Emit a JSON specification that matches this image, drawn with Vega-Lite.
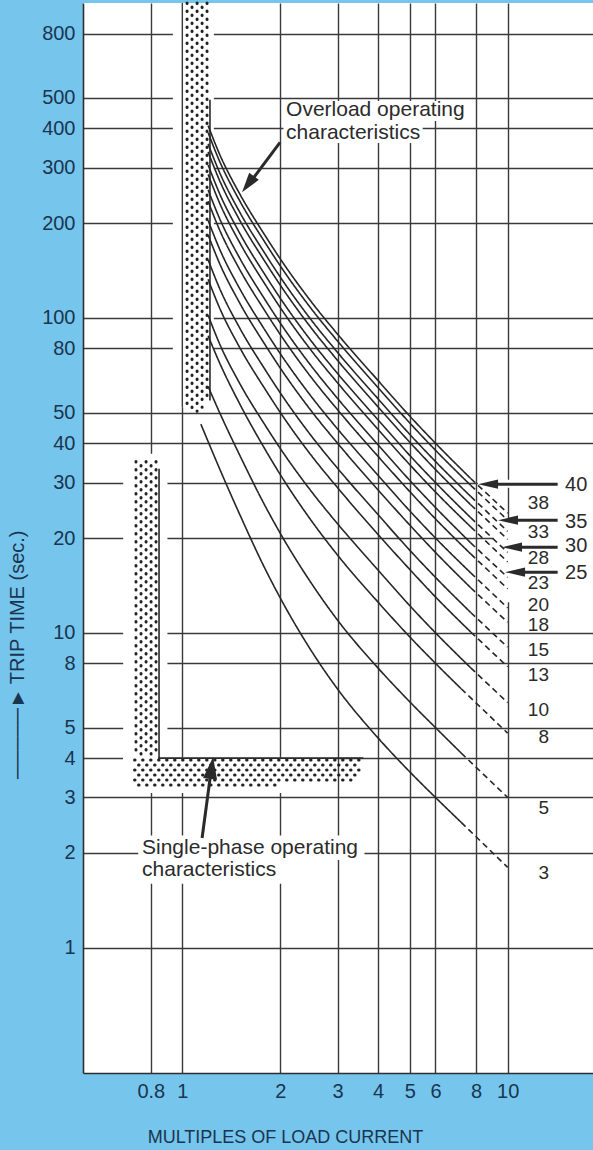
{
"$schema": "https://vega.github.io/schema/vega-lite/v6.json",
"width": 510, "height": 1070,
"autosize": {"type": "none"},
"padding": {"left": 83, "top": 3, "right": 0, "bottom": 77},
"background": "#76C5EC",
"config": {
  "view": {"fill": "#ffffff", "stroke": null},
  "font": "Liberation Sans",
  "axis": {"gridColor": "#3a3a3a", "gridWidth": 1.4, "gridOpacity": 1, "ticks": false, "domainColor": "#2e2e2e", "domainWidth": 1.6, "labelFont": "Liberation Sans", "labelFontSize": 20, "labelColor": "#1a3550", "labelPadding": 8, "labelOverlap": false, "labelFlush": false, "labelBound": false, "titleFont": "Liberation Sans", "titleFontWeight": "normal", "titleColor": "#1a3550"}
},
"datasets": {
  "knock": [
    {"x":0.935,"x2":1.25,"y":52,"y2":1000},
    {"x":0.658,"x2":0.9,"y":3.1,"y2":37},
    {"x":0.658,"x2":2.95,"y":3.1,"y2":4.02},
    {"x":2.046,"x2":7.59,"y":422,"y2":488},
    {"x":2.046,"x2":5.48,"y":359,"y2":422},
    {"x":0.732,"x2":3.63,"y":1.9,"y2":2.27},
    {"x":0.732,"x2":2.03,"y":1.597,"y2":1.9},
    {"x":8.1,"x2":18.3,"y":28.9,"y2":30.6},
    {"x":9.05,"x2":18.3,"y":19.3,"y2":20.47},
    {"x":9.79,"x2":10.4,"y":12.5,"y2":23}
  ],
  "dotsVA": [{"x":1.034,"y":1000,"y2":52},{"x":1.110,"y":1000,"y2":50.5},{"x":1.191,"y":1000,"y2":54},{"x":0.7202,"y":35,"y2":4.05},{"x":0.7735,"y":35,"y2":4.05},{"x":0.83,"y":35,"y2":4.05}],
  "dotsVB": [{"x":1.071,"y":1000,"y2":51},{"x":1.150,"y":1000,"y2":52},{"x":0.7464,"y":35,"y2":4.05},{"x":0.8015,"y":35,"y2":4.05}],
  "dotsHA": [{"x":0.713,"x2":3.58,"y":3.942},{"x":0.713,"x2":3.52,"y":3.665},{"x":0.713,"x2":3.3,"y":3.406}],
  "dotsHB": [{"x":0.713,"x2":3.56,"y":3.801},{"x":0.713,"x2":3.45,"y":3.533},{"x":0.713,"x2":2.0,"y":3.284}],
  "edgesV": [{"x":1.216,"y":490,"y2":55},{"x":0.848,"y":33,"y2":4}],
  "gridFix": [{"x":1,"y":1000,"y2":52}],
  "edgesH": [{"x":0.848,"x2":3.58,"y":4}],
  "curves": [
    {"c":3,"p":"s","x":1.14,"y":46},{"c":3,"p":"s","x":1.2,"y":40.5},{"c":3,"p":"s","x":1.3,"y":33.3},{"c":3,"p":"s","x":1.5,"y":23.8},{"c":3,"p":"s","x":1.8,"y":15.9},{"c":3,"p":"s","x":2,"y":12.9},{"c":3,"p":"s","x":2.5,"y":8.72},{"c":3,"p":"s","x":3,"y":6.63},{"c":3,"p":"s","x":4,"y":4.63},{"c":3,"p":"s","x":5,"y":3.62},{"c":3,"p":"s","x":6,"y":3.0},{"c":3,"p":"s","x":7.2,"y":2.5},{"c":3,"p":"d","x":7.2,"y":2.5},{"c":3,"p":"d","x":10,"y":1.8},
    {"c":5,"p":"s","x":1.2,"y":60.6},{"c":5,"p":"s","x":1.3,"y":50.2},{"c":5,"p":"s","x":1.5,"y":36.7},{"c":5,"p":"s","x":1.8,"y":25.2},{"c":5,"p":"s","x":2,"y":20.7},{"c":5,"p":"s","x":2.5,"y":14.3},{"c":5,"p":"s","x":3,"y":10.97},{"c":5,"p":"s","x":4,"y":7.72},{"c":5,"p":"s","x":5,"y":6.04},{"c":5,"p":"s","x":6,"y":5.0},{"c":5,"p":"s","x":7.2,"y":4.15},{"c":5,"p":"d","x":7.2,"y":4.15},{"c":5,"p":"d","x":10,"y":3.0},
    {"c":8,"p":"s","x":1.2,"y":87.8},{"c":8,"p":"s","x":1.3,"y":72.2},{"c":8,"p":"s","x":1.5,"y":53.4},{"c":8,"p":"s","x":1.8,"y":38.1},{"c":8,"p":"s","x":2,"y":31.8},{"c":8,"p":"s","x":2.5,"y":22.6},{"c":8,"p":"s","x":3,"y":17.65},{"c":8,"p":"s","x":4,"y":12.5},{"c":8,"p":"s","x":5,"y":9.71},{"c":8,"p":"s","x":6,"y":8.0},{"c":8,"p":"s","x":7.2,"y":6.64},{"c":8,"p":"d","x":7.2,"y":6.64},{"c":8,"p":"d","x":10,"y":4.8},
    {"c":10,"p":"s","x":1.2,"y":102},{"c":10,"p":"s","x":1.3,"y":83},{"c":10,"p":"s","x":1.5,"y":62},{"c":10,"p":"s","x":1.8,"y":45.5},{"c":10,"p":"s","x":2,"y":38.5},{"c":10,"p":"s","x":2.5,"y":28},{"c":10,"p":"s","x":3,"y":22.2},{"c":10,"p":"s","x":4,"y":15.8},{"c":10,"p":"s","x":5,"y":12.2},{"c":10,"p":"s","x":6,"y":10},{"c":10,"p":"s","x":7.7,"y":7.74},{"c":10,"p":"d","x":7.7,"y":7.74},{"c":10,"p":"d","x":10,"y":6.0},
    {"c":13,"p":"s","x":1.2,"y":132.6},{"c":13,"p":"s","x":1.3,"y":107.9},{"c":13,"p":"s","x":1.5,"y":80.6},{"c":13,"p":"s","x":1.8,"y":59.2},{"c":13,"p":"s","x":2,"y":50.1},{"c":13,"p":"s","x":2.5,"y":36.4},{"c":13,"p":"s","x":3,"y":28.9},{"c":13,"p":"s","x":4,"y":20.5},{"c":13,"p":"s","x":5,"y":15.9},{"c":13,"p":"s","x":6,"y":13},{"c":13,"p":"s","x":7.7,"y":10.06},{"c":13,"p":"d","x":7.7,"y":10.06},{"c":13,"p":"d","x":10,"y":7.8},
    {"c":15,"p":"s","x":1.2,"y":153},{"c":15,"p":"s","x":1.3,"y":124.5},{"c":15,"p":"s","x":1.5,"y":93},{"c":15,"p":"s","x":1.8,"y":68.3},{"c":15,"p":"s","x":2,"y":57.8},{"c":15,"p":"s","x":2.5,"y":42},{"c":15,"p":"s","x":3,"y":33.3},{"c":15,"p":"s","x":4,"y":23.7},{"c":15,"p":"s","x":5,"y":18.3},{"c":15,"p":"s","x":6,"y":15},{"c":15,"p":"s","x":7.7,"y":11.6},{"c":15,"p":"d","x":7.7,"y":11.6},{"c":15,"p":"d","x":10,"y":9.0},
    {"c":18,"p":"s","x":1.2,"y":183.6},{"c":18,"p":"s","x":1.3,"y":149.4},{"c":18,"p":"s","x":1.5,"y":111.6},{"c":18,"p":"s","x":1.8,"y":81.9},{"c":18,"p":"s","x":2,"y":69.3},{"c":18,"p":"s","x":2.5,"y":50.4},{"c":18,"p":"s","x":3,"y":40.0},{"c":18,"p":"s","x":4,"y":28.4},{"c":18,"p":"s","x":5,"y":22.0},{"c":18,"p":"s","x":6,"y":18},{"c":18,"p":"s","x":7.7,"y":13.9},{"c":18,"p":"d","x":7.7,"y":13.9},{"c":18,"p":"d","x":10,"y":10.8},
    {"c":20,"p":"s","x":1.2,"y":204},{"c":20,"p":"s","x":1.3,"y":166},{"c":20,"p":"s","x":1.5,"y":124},{"c":20,"p":"s","x":1.8,"y":91},{"c":20,"p":"s","x":2,"y":77},{"c":20,"p":"s","x":2.5,"y":56},{"c":20,"p":"s","x":3,"y":44.4},{"c":20,"p":"s","x":4,"y":31.6},{"c":20,"p":"s","x":5,"y":24.4},{"c":20,"p":"s","x":6,"y":20},{"c":20,"p":"s","x":7.7,"y":15.5},{"c":20,"p":"d","x":7.7,"y":15.5},{"c":20,"p":"d","x":10,"y":12.0},
    {"c":23,"p":"s","x":1.2,"y":234.6},{"c":23,"p":"s","x":1.3,"y":190.9},{"c":23,"p":"s","x":1.5,"y":142.6},{"c":23,"p":"s","x":1.8,"y":104.7},{"c":23,"p":"s","x":2,"y":88.6},{"c":23,"p":"s","x":2.5,"y":64.4},{"c":23,"p":"s","x":3,"y":51.1},{"c":23,"p":"s","x":4,"y":36.3},{"c":23,"p":"s","x":5,"y":28.1},{"c":23,"p":"s","x":6,"y":23},{"c":23,"p":"s","x":7.7,"y":17.8},{"c":23,"p":"d","x":7.7,"y":17.8},{"c":23,"p":"d","x":10,"y":13.8},
    {"c":25,"p":"s","x":1.2,"y":255},{"c":25,"p":"s","x":1.3,"y":207.5},{"c":25,"p":"s","x":1.5,"y":155},{"c":25,"p":"s","x":1.8,"y":113.8},{"c":25,"p":"s","x":2,"y":96.3},{"c":25,"p":"s","x":2.5,"y":70},{"c":25,"p":"s","x":3,"y":55.5},{"c":25,"p":"s","x":4,"y":39.5},{"c":25,"p":"s","x":5,"y":30.5},{"c":25,"p":"s","x":6,"y":25},{"c":25,"p":"s","x":7.7,"y":19.3},{"c":25,"p":"d","x":7.7,"y":19.3},{"c":25,"p":"d","x":10,"y":15.0},
    {"c":28,"p":"s","x":1.2,"y":285.6},{"c":28,"p":"s","x":1.3,"y":232.4},{"c":28,"p":"s","x":1.5,"y":173.6},{"c":28,"p":"s","x":1.8,"y":127.4},{"c":28,"p":"s","x":2,"y":107.8},{"c":28,"p":"s","x":2.5,"y":78.4},{"c":28,"p":"s","x":3,"y":62.2},{"c":28,"p":"s","x":4,"y":44.2},{"c":28,"p":"s","x":5,"y":34.2},{"c":28,"p":"s","x":6,"y":28},{"c":28,"p":"s","x":7.7,"y":21.7},{"c":28,"p":"d","x":7.7,"y":21.7},{"c":28,"p":"d","x":10,"y":16.8},
    {"c":30,"p":"s","x":1.2,"y":306},{"c":30,"p":"s","x":1.3,"y":249},{"c":30,"p":"s","x":1.5,"y":186},{"c":30,"p":"s","x":1.8,"y":136.5},{"c":30,"p":"s","x":2,"y":115.5},{"c":30,"p":"s","x":2.5,"y":84},{"c":30,"p":"s","x":3,"y":66.6},{"c":30,"p":"s","x":4,"y":47.4},{"c":30,"p":"s","x":5,"y":36.6},{"c":30,"p":"s","x":6,"y":30},{"c":30,"p":"s","x":7.7,"y":23.2},{"c":30,"p":"d","x":7.7,"y":23.2},{"c":30,"p":"d","x":10,"y":18.0},
    {"c":33,"p":"s","x":1.2,"y":336.6},{"c":33,"p":"s","x":1.3,"y":273.9},{"c":33,"p":"s","x":1.5,"y":204.6},{"c":33,"p":"s","x":1.8,"y":150.2},{"c":33,"p":"s","x":2,"y":127.1},{"c":33,"p":"s","x":2.5,"y":92.4},{"c":33,"p":"s","x":3,"y":73.3},{"c":33,"p":"s","x":4,"y":52.1},{"c":33,"p":"s","x":5,"y":40.3},{"c":33,"p":"s","x":6,"y":33},{"c":33,"p":"s","x":7.7,"y":25.5},{"c":33,"p":"d","x":7.7,"y":25.5},{"c":33,"p":"d","x":10,"y":19.8},
    {"c":35,"p":"s","x":1.2,"y":357},{"c":35,"p":"s","x":1.3,"y":290.5},{"c":35,"p":"s","x":1.5,"y":217},{"c":35,"p":"s","x":1.8,"y":159.3},{"c":35,"p":"s","x":2,"y":134.8},{"c":35,"p":"s","x":2.5,"y":98},{"c":35,"p":"s","x":3,"y":77.7},{"c":35,"p":"s","x":4,"y":55.3},{"c":35,"p":"s","x":5,"y":42.7},{"c":35,"p":"s","x":6,"y":35},{"c":35,"p":"s","x":7.7,"y":27.1},{"c":35,"p":"d","x":7.7,"y":27.1},{"c":35,"p":"d","x":10,"y":21.0},
    {"c":38,"p":"s","x":1.2,"y":387.6},{"c":38,"p":"s","x":1.3,"y":315.4},{"c":38,"p":"s","x":1.5,"y":235.6},{"c":38,"p":"s","x":1.8,"y":172.9},{"c":38,"p":"s","x":2,"y":146.3},{"c":38,"p":"s","x":2.5,"y":106.4},{"c":38,"p":"s","x":3,"y":84.4},{"c":38,"p":"s","x":4,"y":60.0},{"c":38,"p":"s","x":5,"y":46.4},{"c":38,"p":"s","x":6,"y":38},{"c":38,"p":"s","x":7.7,"y":29.4},{"c":38,"p":"d","x":7.7,"y":29.4},{"c":38,"p":"d","x":10,"y":22.8},
    {"c":40,"p":"s","x":1.2,"y":408},{"c":40,"p":"s","x":1.3,"y":332},{"c":40,"p":"s","x":1.5,"y":248},{"c":40,"p":"s","x":1.8,"y":182},{"c":40,"p":"s","x":2,"y":154},{"c":40,"p":"s","x":2.5,"y":112},{"c":40,"p":"s","x":3,"y":88.8},{"c":40,"p":"s","x":4,"y":63.2},{"c":40,"p":"s","x":5,"y":48.8},{"c":40,"p":"s","x":6,"y":40},{"c":40,"p":"s","x":7.7,"y":30.9},{"c":40,"p":"d","x":7.7,"y":30.9},{"c":40,"p":"d","x":10,"y":24.0}
  ],
  "shafts": [
    {"x":14.25,"y":29.65,"x2":8.74,"y2":29.65},
    {"x":14.25,"y":22.79,"x2":10.07,"y2":22.79},
    {"x":14.25,"y":18.7,"x2":10.36,"y2":18.7},
    {"x":14.25,"y":15.58,"x2":10.57,"y2":15.58},
    {"x":1.997,"y":361,"x2":1.592,"y2":263.8},
    {"x":1.15,"y":2.229,"x2":1.23,"y2":3.75}
  ],
  "headsLeft": [{"x":8.11,"y":29.65},{"x":9.34,"y":22.79},{"x":9.61,"y":18.7},{"x":9.82,"y":15.58}],
  "headOver": [{"x":1.526,"y":250.6}],
  "headSingle": [{"x":1.243,"y":4.03}],
  "notes": [
    {"text":"Overload operating","x":2.084,"y":456},
    {"text":"characteristics","x":2.084,"y":385.7},
    {"text":"Single-phase operating","x":0.7517,"y":2.072},
    {"text":"characteristics","x":0.7517,"y":1.765}
  ],
  "bigLabels": [{"text":"40","x":15.02,"y":29.5},{"text":"35","x":15.02,"y":22.56},{"text":"30","x":15.02,"y":18.89},{"text":"25","x":15.02,"y":15.54}],
  "smallLabels": [
    {"text":"38","x":13.4,"y":25.8},{"text":"33","x":13.4,"y":20.97},{"text":"28","x":13.4,"y":17.27},{"text":"23","x":13.4,"y":14.38},
    {"text":"20","x":13.4,"y":12.25},{"text":"18","x":13.4,"y":10.55},{"text":"15","x":13.4,"y":8.83},{"text":"13","x":13.4,"y":7.36},
    {"text":"10","x":13.4,"y":5.69},{"text":"8","x":13.4,"y":4.68},{"text":"5","x":13.4,"y":2.78},{"text":"3","x":13.4,"y":1.73}
  ]
},
"encoding": {
  "x": {"field": "x", "type": "quantitative", "scale": {"type": "log", "domain": [0.495, 18.3], "nice": false},
        "axis": {"values": [0.8,1,2,3,4,5,6,8,10], "format": "~g", "grid": true, "title": "MULTIPLES OF LOAD CURRENT", "titleFontSize": 18, "titleX": 202, "titleY": 64, "titleAlign": "center", "titleBaseline": "middle", "titleAnchor": null}},
  "y": {"field": "y", "type": "quantitative", "scale": {"type": "log", "domain": [0.4, 1000], "nice": false},
        "axis": {"values": [1,2,3,4,5,8,10,20,30,40,50,80,100,200,300,400,500,800], "format": "~g", "grid": true, "title": "─────►\u2009TRIP TIME (sec.)", "titleFontSize": 20, "titleX": -66, "titleY": 527, "titleAlign": "right", "titleBaseline": "middle", "titleAnchor": null}}
},
"layer": [
  {"data": {"name": "knock"}, "mark": {"type": "rect", "color": "#ffffff"}, "encoding": {"x2": {"field": "x2"}, "y2": {"field": "y2"}}},
  {"data": {"name": "dotsVA"}, "mark": {"type": "rule", "color": "#222222", "strokeWidth": 3.0, "strokeCap": "round", "strokeDash": [0.5, 7.5], "strokeDashOffset": 0}, "encoding": {"y2": {"field": "y2"}}},
  {"data": {"name": "dotsVB"}, "mark": {"type": "rule", "color": "#222222", "strokeWidth": 3.0, "strokeCap": "round", "strokeDash": [0.5, 7.5], "strokeDashOffset": 4}, "encoding": {"y2": {"field": "y2"}}},
  {"data": {"name": "dotsHA"}, "mark": {"type": "rule", "color": "#222222", "strokeWidth": 3.0, "strokeCap": "round", "strokeDash": [0.5, 7.5], "strokeDashOffset": 0}, "encoding": {"x2": {"field": "x2"}}},
  {"data": {"name": "dotsHB"}, "mark": {"type": "rule", "color": "#222222", "strokeWidth": 3.0, "strokeCap": "round", "strokeDash": [0.5, 7.5], "strokeDashOffset": 4}, "encoding": {"x2": {"field": "x2"}}},
  {"data": {"name": "gridFix"}, "mark": {"type": "rule", "color": "#3a3a3a", "strokeWidth": 1.4}, "encoding": {"y2": {"field": "y2"}}},
  {"data": {"name": "edgesV"}, "mark": {"type": "rule", "color": "#2a2a2a", "strokeWidth": 1.6, "strokeCap": "square"}, "encoding": {"y2": {"field": "y2"}}},
  {"data": {"name": "edgesH"}, "mark": {"type": "rule", "color": "#2a2a2a", "strokeWidth": 1.6, "strokeCap": "square"}, "encoding": {"x2": {"field": "x2"}}},
  {"data": {"name": "curves"}, "mark": {"type": "line", "color": "#262626", "strokeWidth": 1.6, "interpolate": "monotone"},
   "encoding": {"detail": [{"field": "c", "type": "nominal"}, {"field": "p", "type": "nominal"}],
                "strokeDash": {"field": "p", "type": "nominal", "scale": {"domain": ["s", "d"], "range": [[1, 0], [6, 4]]}, "legend": null}}},
  {"data": {"name": "shafts"}, "mark": {"type": "rule", "color": "#2a2a2a", "strokeWidth": 3}, "encoding": {"x2": {"field": "x2"}, "y2": {"field": "y2"}}},
  {"data": {"name": "headsLeft"}, "mark": {"type": "point", "filled": true, "opacity": 1, "color": "#2a2a2a", "strokeWidth": 0, "shape": "M0,0L0.23,1L-0.23,1Z", "size": 1600, "angle": 270}},
  {"data": {"name": "headOver"}, "mark": {"type": "point", "filled": true, "opacity": 1, "color": "#2a2a2a", "strokeWidth": 0, "shape": "M0,0L0.3,1L-0.3,1Z", "size": 1600, "angle": 216.7}},
  {"data": {"name": "headSingle"}, "mark": {"type": "point", "filled": true, "opacity": 1, "color": "#2a2a2a", "strokeWidth": 0, "shape": "M0,0L0.32,1L-0.32,1Z", "size": 1936, "angle": 7.8}},
  {"data": {"name": "notes"}, "mark": {"type": "text", "align": "left", "baseline": "middle", "font": "Liberation Sans", "fontSize": 21, "color": "#2b2b2b"}, "encoding": {"text": {"field": "text"}}},
  {"data": {"name": "bigLabels"}, "mark": {"type": "text", "align": "left", "baseline": "middle", "font": "Liberation Sans", "fontSize": 20, "color": "#2b2b2b"}, "encoding": {"text": {"field": "text"}}},
  {"data": {"name": "smallLabels"}, "mark": {"type": "text", "align": "right", "baseline": "middle", "font": "Liberation Sans", "fontSize": 19, "color": "#2b2b2b"}, "encoding": {"text": {"field": "text"}}}
]
}
